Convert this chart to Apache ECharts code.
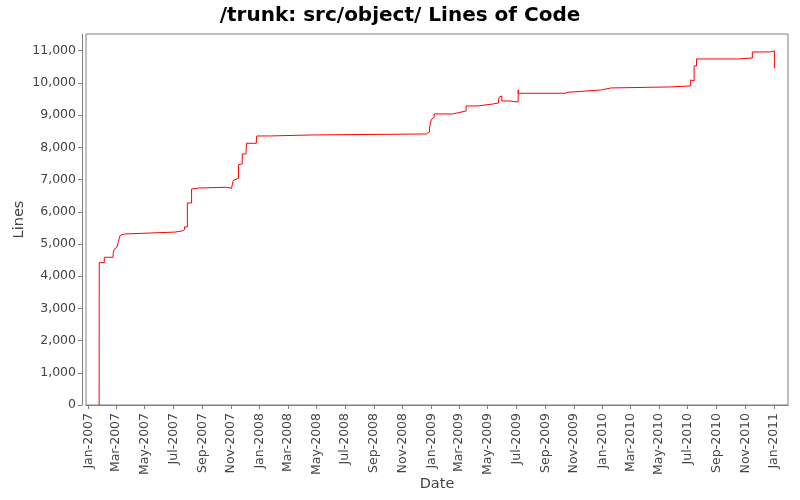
<!DOCTYPE html>
<html>
<head>
<meta charset="utf-8">
<script src="https://cdn.jsdelivr.net/npm/echarts@6/dist/echarts.min.js"></script>
<style>html,body{margin:0;padding:0;background:#fff}#c{width:800px;height:500px}</style>
</head>
<body>
<div id="c"></div>
<script>
var dates = ['2007-01-24 00:00','2007-01-24 06:00','2007-02-04','2007-02-23','2007-02-25','2007-02-28','2007-03-03','2007-03-06','2007-03-10','2007-03-12','2007-03-19',
  '2007-07-05','2007-07-20','2007-07-25','2007-07-31','2007-08-09','2007-08-11','2007-08-26','2007-10-22','2007-11-02','2007-11-06','2007-11-07','2007-11-17','2007-11-19','2007-11-25','2007-12-03','2007-12-04','2007-12-25','2007-12-26',
  '2008-01-22','2008-04-22','2008-12-21','2008-12-28',
  '2009-01-01','2009-01-05','2009-01-07','2009-02-15','2009-02-25','2009-03-16','2009-04-09','2009-05-13','2009-05-24','2009-05-26','2009-05-29','2009-05-31','2009-06-16','2009-07-05 00:00','2009-07-05 06:00','2009-10-13','2009-10-19','2009-11-29','2009-12-29',
  '2010-01-19','2010-05-25','2010-07-07','2010-07-11','2010-07-15','2010-07-20','2010-10-17','2010-11-16','2010-12-24','2011-01-02'];
var lines = [0,4420,4587,4711,4835,4897,4928,5080,5270,5310,5370,
  5404,5444,5528,6273,6708,6739,6761,6730,6761,6978,7040,7463,7484,7795,7816,8127,8199,8354,
  8385,8416,8478,8602,
  8873,8935,9037,9068,9130,9286,9348,9379,9493,9565,9596,9441,9410,9783,9680,9711,9752,9783,9845,
  9876,9907,10093,10062,10528,10745,10776,10963,10994,10457];
var yTicks = [0,1000,2000,3000,4000,5000,6000,7000,8000,9000,10000,11000];
var xTicks = ['2007-01-01','2007-03-01','2007-05-01','2007-07-01','2007-09-01','2007-11-01',
  '2008-01-01','2008-03-01','2008-05-01','2008-07-01','2008-09-01','2008-11-01',
  '2009-01-01','2009-03-01','2009-05-01','2009-07-01','2009-09-01','2009-11-01',
  '2010-01-01','2010-03-01','2010-05-01','2010-07-01','2010-09-01','2010-11-01','2011-01-01'];
var xRange = ['2006-12-27', '2011-01-31'];
var monthNames = ['Jan','Feb','Mar','Apr','May','Jun','Jul','Aug','Sep','Oct','Nov','Dec'];

function ts(s) {
  var p = s.split(' ');
  var d = p[0].split('-');
  var t = (p[1] || '00:00').split(':');
  return Date.UTC(+d[0], +d[1] - 1, +d[2], +t[0], +t[1]);
}

var chart = echarts.init(document.getElementById('c'));
var font = 'DejaVu Sans';
var xTickNums = xTicks.map(ts);
chart.setOption({
  animation: false,
  backgroundColor: '#fff',
  title: {
    text: '/trunk: src/object/ Lines of Code',
    left: 'center', top: 1,
    textStyle: {fontFamily: font, fontSize: 20, fontWeight: 'bold', color: '#000'}
  },
  grid: {left: 86, right: 12, top: 34, bottom: 95, show: true, borderColor: '#808080', borderWidth: 1,
         containLabel: false, outerBoundsMode: 'none'},
  xAxis: {
    type: 'value',
    min: ts(xRange[0]), max: ts(xRange[1]),
    offset: 4,
    name: 'Date', nameLocation: 'middle', nameGap: 68, nameMoveOverlap: false,
    nameTextStyle: {fontFamily: font, fontSize: 14.5, color: '#444'},
    axisLine: {show: true, lineStyle: {color: '#808080', width: 1}},
    axisTick: {show: true, length: 4, lineStyle: {color: '#808080'}, customValues: xTickNums},
    splitLine: {show: false},
    axisLabel: {
      rotate: 90, margin: 4, fontFamily: font, fontSize: 12.5, color: '#444',
      customValues: xTickNums,
      formatter: function (v) { var d = new Date(v); return monthNames[d.getUTCMonth()] + '-' + d.getUTCFullYear(); }
    }
  },
  yAxis: {
    type: 'value',
    min: 0, max: 11520,
    offset: 4,
    name: 'Lines', nameLocation: 'middle', nameGap: 55, nameMoveOverlap: false,
    nameTextStyle: {fontFamily: font, fontSize: 14.5, color: '#444'},
    axisLine: {show: true, lineStyle: {color: '#808080', width: 1}},
    axisTick: {show: true, length: 4, lineStyle: {color: '#808080'}, customValues: yTicks},
    splitLine: {show: false},
    axisLabel: {
      margin: 6, fontFamily: font, fontSize: 12.5, color: '#444',
      customValues: yTicks,
      formatter: function (v) { return Number(v).toLocaleString('en-US'); }
    }
  },
  series: [{
    type: 'line',
    step: 'end',
    showSymbol: false,
    symbol: 'none',
    lineStyle: {color: '#ff0000', width: 1},
    data: dates.map(function (d, i) { return [ts(d), lines[i]]; })
  }]
});
</script>
</body>
</html>
